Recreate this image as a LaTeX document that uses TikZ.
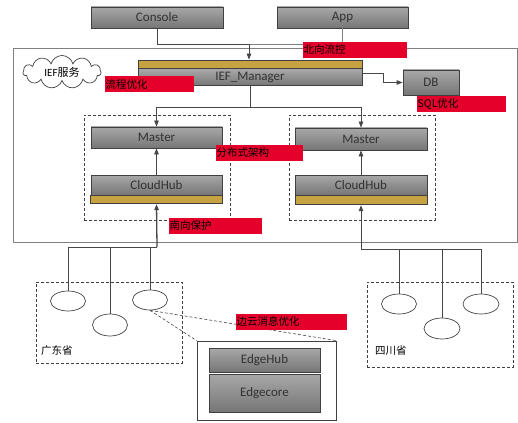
\documentclass[tikz,border=0pt]{standalone}
\usepackage{fontspec}
\setmainfont{Carlito}
\newfontfamily\cjk{Noto Sans CJK SC}
\usetikzlibrary{shapes.geometric,shapes.symbols,arrows.meta,positioning}

\definecolor{boxtop}{RGB}{168,168,168}
\definecolor{boxbot}{RGB}{118,118,118}
\definecolor{boxline}{RGB}{64,64,64}
\definecolor{boxtext}{RGB}{50,50,50}
\definecolor{goldbar}{RGB}{198,162,66}
\definecolor{tagred}{RGB}{228,0,43}
\definecolor{wire}{RGB}{70,70,70}
\definecolor{framegray}{RGB}{128,128,128}

\begin{document}
\begin{tikzpicture}[
    x=1pt, y=-1pt,
    box/.style={rectangle, draw=boxline, line width=0.8pt, top color=boxtop, bottom color=boxbot, text=boxtext, inner sep=0pt, font=\fontsize{13}{15}\selectfont},
    bar/.style={rectangle, draw=boxline, line width=0.8pt, fill=goldbar, inner sep=0pt},
    group/.style={rectangle, draw=boxline, dashed, line width=0.6pt, dash pattern=on 3pt off 2pt, inner sep=0pt},
    device/.style={ellipse, draw=wire, line width=0.7pt, fill=white, inner sep=0pt, minimum width=35, minimum height=20},
    tag/.style={rectangle, fill=tagred, text=black, anchor=west, inner xsep=0.5pt, inner ysep=0pt, minimum height=16, text width=#1, font=\cjk\fontsize{10.5}{12}\selectfont},
    line/.style={draw=wire, line width=0.8pt},
    arrow/.style={line, -{Triangle[length=6pt,width=4.5pt]}},
    cue/.style={draw=wire, line width=0.6pt, dash pattern=on 3pt off 2pt}
]
\useasboundingbox (0,0) rectangle (518,422);

% 北向入口
\node[box, minimum width=132, minimum height=21] (console) at (157,17.5) {Console};
\node[box, minimum width=131, minimum height=21] (app) at (342.5,17.5) {App};

% IEF服务外框
\draw[framegray, line width=0.8pt] (13,48) rectangle (517.6,242);
\node[cloud, cloud puffs=11, aspect=2.4, draw=boxline, line width=0.7pt, fill=white, minimum width=78, minimum height=33, inner sep=0pt, font=\fontsize{11}{13}\selectfont] (ief) at (62,72) {IEF\cjk 服务};

% 管理层
\node[bar, minimum width=224, minimum height=8] (mgrbar) at (250,64) {};
\node[box, minimum width=224, minimum height=17, below=0pt of mgrbar] (mgr) {IEF\_Manager};
\node[box, minimum width=56, minimum height=25] (db) at (431,82.5) {DB};

% 左侧集群
\node[group, minimum width=146, minimum height=105] (clusterL) at (157,167.5) {};
\node[box, minimum width=131, minimum height=21] (masterL) at (156.5,137.5) {Master};
\node[box, minimum width=131, minimum height=20] (hubL) at (156.5,185) {CloudHub};
\node[bar, minimum width=132, minimum height=8, below=0pt of hubL] (barL) {};

% 右侧集群
\node[group, minimum width=146, minimum height=105] (clusterR) at (362,167.5) {};
\node[box, minimum width=132, minimum height=22] (masterR) at (361,139) {Master};
\node[box, minimum width=132, minimum height=20] (hubR) at (361,185) {CloudHub};
\node[bar, minimum width=132, minimum height=9, below=0pt of hubR] (barR) {};

% 边缘区域
\node[group, minimum width=146, minimum height=81] (gd) at (109,322.5) {};
\node[font=\cjk\fontsize{10.5}{12}\selectfont, anchor=west, inner sep=0pt] (gdname) at (41,351) {广东省};
\node[device] (g1) at (68,301) {};
\node[device, minimum height=22] (g2) at (110,325) {};
\node[device] (g3) at (150,300) {};

\node[group, minimum width=146, minimum height=85] (sc) at (440,324.5) {};
\node[font=\cjk\fontsize{10.5}{12}\selectfont, anchor=west, inner sep=0pt] (scname) at (375,351) {四川省};
\node[device] (s1) at (399,304) {};
\node[device, minimum width=36, minimum height=21] (s2) at (442,328.5) {};
\node[device, minimum width=36] (s3) at (481,304) {};

% 边缘节点
\node[rectangle, draw=boxline, line width=0.8pt, fill=white, minimum width=139, minimum height=79, inner sep=0pt] (node) at (266.5,380.5) {};
\node[box, minimum width=111, minimum height=24] (edgehub) at (264.5,360) {EdgeHub};
\node[box, minimum width=111, minimum height=38] (edgecore) at (264.5,393) {Edgecore};

% 连接线
\coordinate (nj) at (249,44);
\draw[line] (console.south) |- (nj);
\draw[line, draw=framegray] (app.south) |- (nj);
\draw[arrow] (nj) -- (nj |- mgrbar.north);
\draw[arrow] ([yshift=3.5pt]mgr.east) -- ++(21,0) |- (db.west);
\draw[line] (mgr.south) -- ++(0,21.5) coordinate (sj);
\draw[arrow] (sj) -| (masterL.north);
\draw[arrow] (sj) -| (masterR.north);
\draw[arrow] (hubL.north) -- (masterL.south);
\draw[arrow] (hubR.north) -- (masterR.south);

\coordinate (gj) at (157,247);
\draw[arrow, line width=1.3pt] (gj) -- (barL.south);
\draw[line] (gj) -| (g1.north);
\draw[line] (gj) -| (g2.north);
\draw[line] (gj) -| (g3.north);

\coordinate (cj) at (361,249);
\draw[arrow] (cj) -- (barR.south);
\draw[line] (cj) -| (s1.north);
\draw[line] (cj) -| (s2.north);
\draw[line] (cj) -| (s3.north);

\draw[cue] (g3.south) -- (node.north east);
\draw[cue] (g3.south) -- (node.north west);

% 标注
\node[tag=103pt] (north) at (303,50) {北向流控};
\node[tag=88pt] (flow) at (105,84.5) {流程优化};
\node[tag=88pt] (sql) at (417,104.5) {SQL优化};
\node[tag=86pt] (dist) at (216,153) {分布式架构};
\node[tag=92pt] (south) at (169,225.5) {南向保护};
\node[tag=110pt] (msg) at (236,321.5) {边云消息优化};

\end{tikzpicture}
\end{document}
